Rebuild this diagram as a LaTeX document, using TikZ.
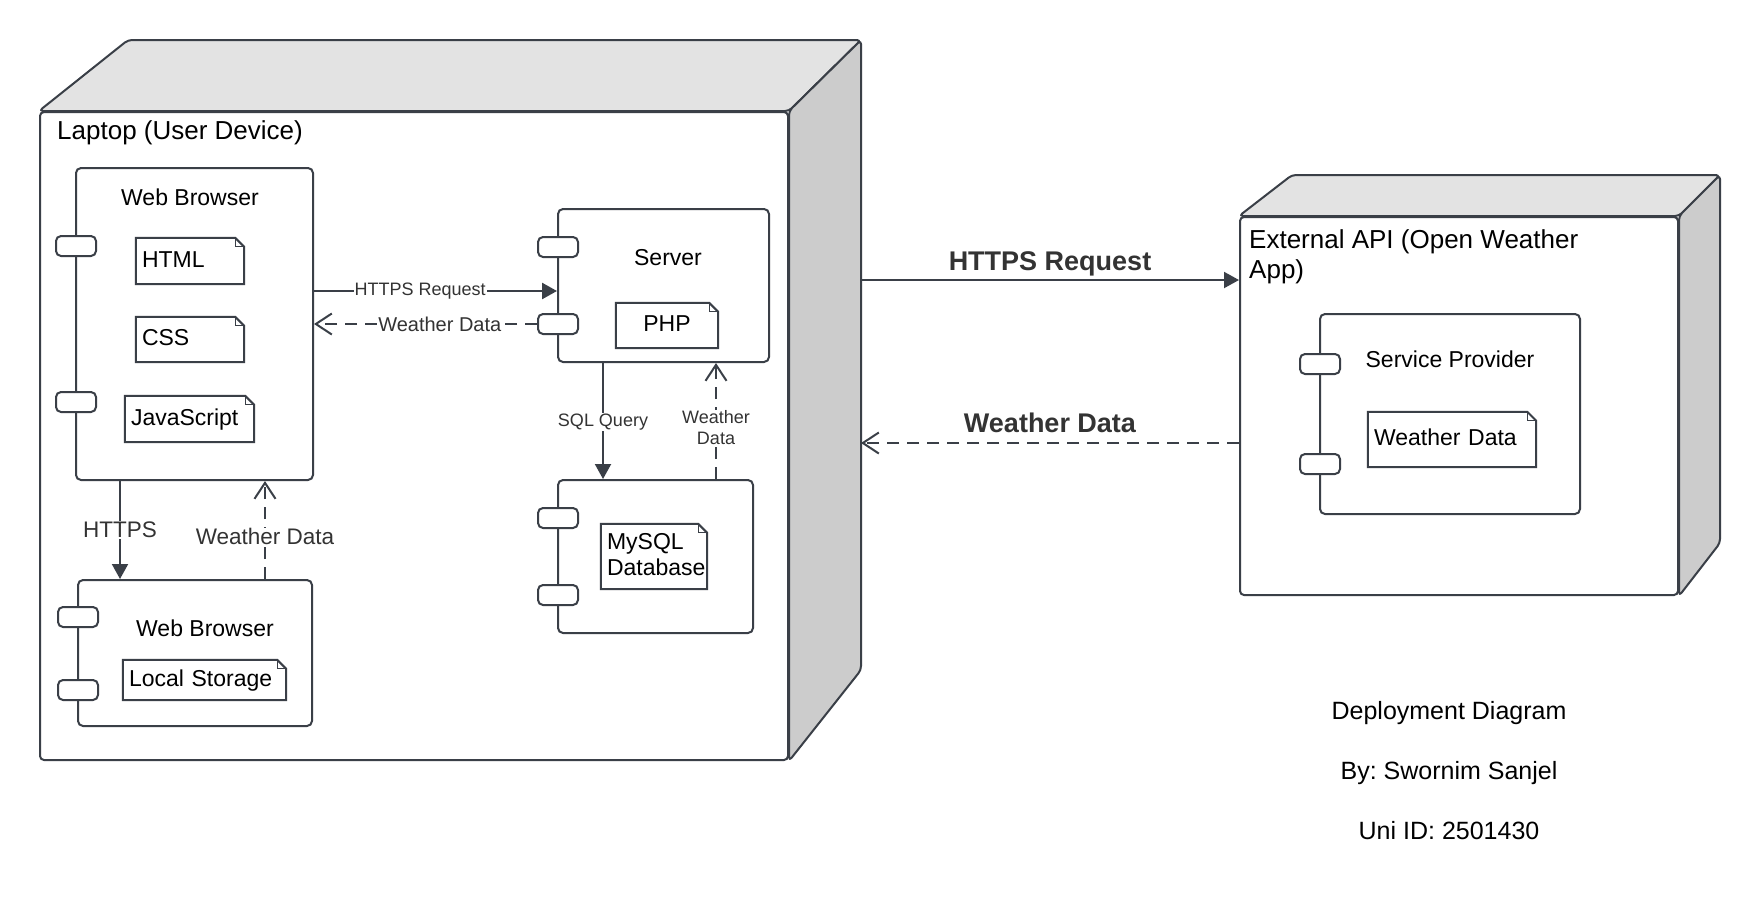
\documentclass[tikz,border=0pt]{standalone}
\usepackage{fontspec}
\setmainfont{Liberation Sans}
\usetikzlibrary{arrows.meta,calc}
\definecolor{lc}{HTML}{3A3F47}
\definecolor{topf}{HTML}{E3E3E3}
\definecolor{sidef}{HTML}{CCCCCC}
\definecolor{labc}{HTML}{333333}
\newcommand\ftitle{\fontsize{26}{30}\selectfont}
\newcommand\fmain{\fontsize{23}{26}\selectfont}
\newcommand\fbot{\fontsize{25}{28}\selectfont}
\newcommand\fbold{\fontsize{27}{30}\selectfont\bfseries}
\newcommand\fsmA{\fontsize{18}{21}\selectfont}
\newcommand\fsmB{\fontsize{20}{23}\selectfont}
\newcommand\fsmC{\fontsize{22.5}{26}\selectfont}
\frenchspacing
\begin{document}
\begin{tikzpicture}[x=1pt,y=-1pt,
  ndfront/.style={draw=lc, line width=2pt, fill=white, rounded corners=4pt, inner sep=0pt},
  ndface/.style={draw=lc, line width=2pt, rounded corners=4pt, line join=round},
  compbox/.style={draw=lc, line width=2pt, fill=white, rounded corners=5pt, inner sep=0pt},
  portbox/.style={draw=lc, line width=2pt, fill=white, rounded corners=5pt, inner sep=0pt, minimum width=40pt, minimum height=20pt},
  artbox/.style={inner xsep=6pt, inner ysep=0pt, align=left, text height=17pt, text depth=5pt, font=\fmain},
  clabel/.style={fill=white, inner xsep=1pt, inner ysep=1pt, text=labc},
  solidarr/.style={draw=lc, line width=2.5pt, -{Triangle[length=15pt,width=16pt]}},
  dasharr/.style={draw=lc, line width=2pt, dash pattern=on 12pt off 8pt, -{Straight Barb[length=16pt,width=21pt,line width=2pt]}},
]
\useasboundingbox (0,0) rectangle (1760,900);
\fill[white] (0,0) rectangle (1760,900);

% ---------- Laptop node ----------
\node[ndfront, minimum width=748pt, minimum height=648pt] (laptop) at (414,436) {};
\filldraw[ndface, fill=topf] (laptop.north west) -- (128,40) -- (861,40) -- (laptop.north east) -- cycle;
\filldraw[ndface, fill=sidef] (laptop.north east) -- (861,40) -- (861,670) -- (laptop.south east) -- cycle;
\node[anchor=base west, font=\ftitle, inner sep=0pt] (laptopt) at (57,139) {Laptop (User Device)};

% ---------- External API node ----------
\node[ndfront, minimum width=438pt, minimum height=378pt] (ext) at (1459,406) {};
\filldraw[ndface, fill=topf] (ext.north west) -- (1292,175) -- (1720,175) -- (ext.north east) -- cycle;
\filldraw[ndface, fill=sidef] (ext.north east) -- (1720,175) -- (1720,543) -- (ext.south east) -- cycle;
\node[anchor=base west, font=\ftitle, align=left, inner sep=0pt] (extt) at (1249,278) {External API (Open Weather\\App)};

% ---------- Components ----------
\node[compbox, minimum width=237pt, minimum height=312pt] (wb1) at (194.5,324) {};
\node[anchor=base, font=\fmain] (wb1t) at (190,205) {Web Browser};
\node[compbox, minimum width=211pt, minimum height=153pt] (srv) at (663.5,285.5) {};
\node[anchor=base, font=\fmain] (srvt) at (668,265) {Server};
\node[compbox, minimum width=195pt, minimum height=153pt] (db) at (655.5,556.5) {};
\node[compbox, minimum width=234pt, minimum height=146pt] (wb2) at (195,653) {};
\node[anchor=base, font=\fmain] (wb2t) at (205,636) {Web Browser};
\node[compbox, minimum width=260pt, minimum height=200pt] (sp) at (1450,414) {};
\node[anchor=base, font=\fmain] (spt) at (1450,367) {Service Provider};

% ---------- Ports ----------
\node[portbox] (wb1p1) at (76,246) {};
\node[portbox] (wb1p2) at (76,402) {};
\node[portbox] (srvp1) at (558,247) {};
\node[portbox] (srvp2) at (558,324) {};
\node[portbox] (dbp1) at (558,518) {};
\node[portbox] (dbp2) at (558,595) {};
\node[portbox] (wb2p1) at (78,617) {};
\node[portbox] (wb2p2) at (78,690) {};
\node[portbox] (spp1) at (1320,364) {};
\node[portbox] (spp2) at (1320,464) {};

% ---------- Artifacts ----------
\node[artbox, text width=96pt, minimum height=46pt] (html) at (190,261) {HTML};
\node[artbox, text width=96pt, minimum height=45pt] (css) at (190,339.5) {CSS};
\node[artbox, text width=117pt, minimum height=46pt] (js) at (189.5,419) {JavaScript};
\node[artbox, text width=90pt, minimum height=45pt, align=center] (php) at (667,325.5) {PHP\hspace*{10pt}};
\node[artbox, text width=94pt, minimum height=65pt, text depth=31pt] (mysql) at (654,556.5) {MySQL\\Database};
\node[artbox, text width=151pt, minimum height=40pt] (local) at (204.5,680) {Local Storage};
\node[artbox, text width=156pt, minimum height=55pt] (wdart) at (1452,439.5) {Weather Data};
\foreach \n in {html,css,js,php,mysql,local,wdart}{
  \draw[lc, line width=2pt, line join=miter] (\n.south west) -- (\n.north west) -- ([xshift=-9pt]\n.north east) -- ([yshift=-9pt]\n.north east) -- (\n.south east) -- cycle;
  \draw[lc, line width=1.2pt] ([xshift=-9pt]\n.north east) |- ([yshift=-9pt]\n.north east);
}

% ---------- Connectors inside laptop ----------
\coordinate (srvin) at ([yshift=-5.5pt]srv.west);
\draw[solidarr] (wb1.east |- srvin) -- node[clabel, pos=.437, font=\fsmA] {HTTPS Request} (srvin);
\draw[dasharr] (srvp2.west) -- node[clabel, pos=.436, font=\fsmB] {Weather Data} (wb1.east |- srvp2.west);

\coordinate (sqx) at (603,0);
\coordinate (wdx) at (716,0);
\draw[solidarr, line width=2pt] (sqx |- srv.south) -- node[clabel, pos=.51, font=\fsmA] {SQL Query} (sqx |- db.north);
\draw[dasharr] (wdx |- db.north) -- node[clabel, pos=.44, font=\fsmA, align=center] {Weather\\Data} (wdx |- srv.south);

\coordinate (hx) at (120,0);
\coordinate (wx) at (265,0);
\draw[solidarr, line width=2pt] (hx |- wb1.south) -- node[clabel, pos=.5, font=\fsmC] {HTTPS} (hx |- wb2.north);
\draw[dasharr] (wx |- wb2.north) -- node[clabel, pos=.43, font=\fsmC] {Weather Data} (wx |- wb1.south);

% ---------- Connectors laptop <-> external API ----------
\coordinate (lside1) at (861,280);
\coordinate (lside2) at (861,443);
\draw[solidarr, line width=2pt] (lside1) -- node[pos=.5, anchor=base, yshift=10pt, font=\fbold, text=labc, inner sep=0pt] {HTTPS Request} (ext.west |- lside1);
\draw[dasharr] (ext.west |- lside2) -- node[pos=.5, anchor=base, yshift=11pt, font=\fbold, text=labc, inner sep=0pt] {Weather Data} (lside2);

% ---------- Caption ----------
\node[anchor=base, font=\fbot] (cap1) at (1449,719) {Deployment Diagram};
\node[anchor=base, font=\fbot] (cap2) at (1449,779) {By: Swornim Sanjel};
\node[anchor=base, font=\fbot] (cap3) at (1449,839) {Uni ID: 2501430};
\end{tikzpicture}
\end{document}
